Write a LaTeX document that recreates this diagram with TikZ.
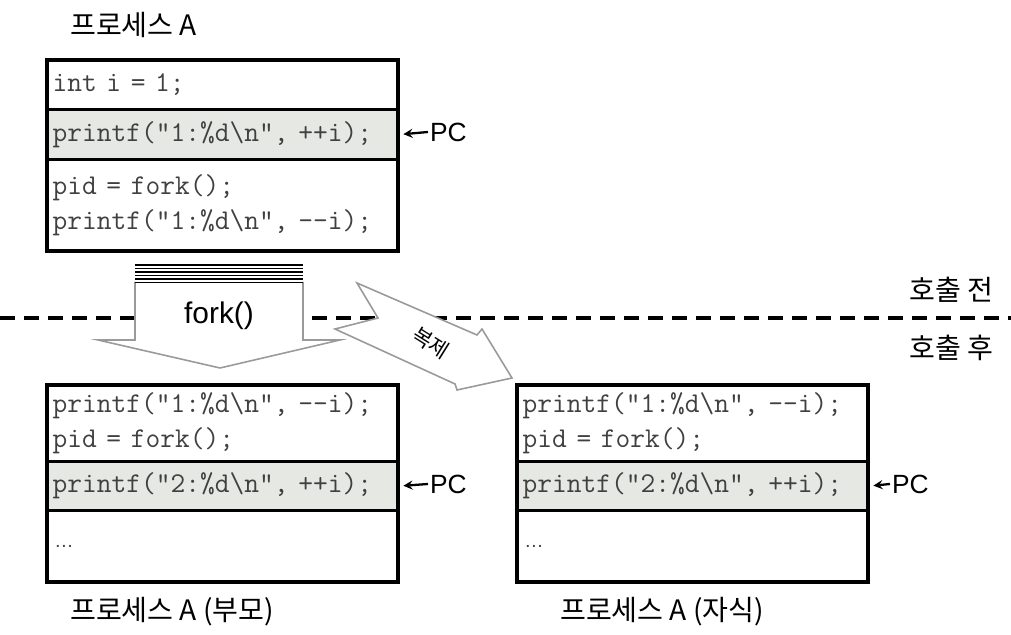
\documentclass[tikz,border=0pt]{standalone}
\usepackage{fontspec}
\setmainfont{Liberation Sans}
\newfontfamily\krfont{Noto Sans CJK KR}
\usepackage{tikz}
\usetikzlibrary{calc}
\definecolor{pcgray}{HTML}{E6E8E3}
\definecolor{outline}{HTML}{9A9A9A}
\tikzset{every node/.append style={font=\fontsize{14}{19}\selectfont}}
\tikzset{
  coderow/.style={draw=black, line width=0.8pt, anchor=north west, inner xsep=0.1cm,
    inner ysep=0pt, text width=6.8cm, align=left,
    font=\ttfamily\fontsize{16.3}{20}\selectfont, text=black!75},
  pcrow/.style={coderow, fill=pcgray},
  procbox/.style={line width=2.2pt},
  korean/.style={anchor=west, font=\krfont\fontsize{16}{19}\selectfont},
  pclabel/.style={anchor=west, inner xsep=1pt, font=\fontsize{15}{18}\selectfont},
  blockarrow/.style={draw=outline, fill=white, line width=0.9pt, line join=miter},
}
\newcommand{\tinydots}{{\rmfamily\fontsize{11}{11}\selectfont\kern1pt\textellipsis}}

\begin{document}
\begin{tikzpicture}[x=0.2mm, y=-0.2mm, >=stealth]
    \useasboundingbox (0,0) rectangle (1011,635);
    % before / after the call
    \draw[line width=2.2pt, dash pattern=on 0.3cm off 0.18cm] (0,318) -- (1011,318);
    \node[korean] (before) at (903,290) {호출 전};
    \node[korean] (after) at (903,348) {호출 후};

    % process A before fork
    \node[korean] (titleA) at (64,25) {프로세스 A};
    \node[coderow, minimum height=0.96cm] (a1) at (47,60) {int i = 1;};
    \node[pcrow, minimum height=0.98cm] (a2) at (a1.south west) {printf(“1:\%d\textbackslash n”, ++i);};
    \node[coderow, minimum height=1.8cm] (a3) at (a2.south west) {pid = fork();\\printf(“1:\%d\textbackslash n”, -{}-i);};
    \draw[procbox] (a1.north west) rectangle (a3.south east);
    \node[pclabel] (pcA) at (428,132) {PC};
    \draw[->, line width=1.3pt, shorten >=0.1cm] (pcA.west) -- (a2.east);

    % fork() arrow
    \draw[blockarrow] (135,282) -- (135,340) -- (98,340) -- (220,368)
        -- (340,340) -- (303,340) -- (303,282);
    \foreach \y in {265,268.5,...,283}
        \draw[line width=0.9pt] (135,\y) -- (303,\y);
    \node[font=\fontsize{17}{20}\selectfont] (fork) at (219,316) {fork()};

    % copy arrow
    \draw[blockarrow] (357,283) -- (477,335) -- (482,329) -- (512,378)
        -- (457,390) -- (455,384) -- (335,329) -- (378,318) -- cycle;
    \node[font=\krfont\fontsize{12}{14}\selectfont, rotate=-32, inner sep=0pt] (dup) at (431,343) {복제};

    % parent
    \node[coderow, minimum height=1.5cm] (p1) at (47,385) {printf(“1:\%d\textbackslash n”, -{}-i);\\pid = fork();};
    \node[pcrow, minimum height=0.96cm] (p2) at (p1.south west) {printf(“2:\%d\textbackslash n”, ++i);};
    \node[coderow, minimum height=1.4cm] (p3) at (p2.south west) {\tinydots};
    \draw[procbox] (p1.north west) rectangle (p3.south east);
    \node[pclabel] (pcP) at (428,484) {PC};
    \draw[->, line width=1.3pt, shorten >=0.1cm] (pcP.west) -- (p2.east);
    \node[korean] (titleP) at (64,612) {프로세스 A (부모)};

    % child
    \node[coderow, minimum height=1.5cm] (c1) at (517,385) {printf(“1:\%d\textbackslash n”, -{}-i);\\pid = fork();};
    \node[pcrow, minimum height=0.96cm] (c2) at (c1.south west) {printf(“2:\%d\textbackslash n”, ++i);};
    \node[coderow, minimum height=1.4cm] (c3) at (c2.south west) {\tinydots};
    \draw[procbox] (c1.north west) rectangle (c3.south east);
    \node[pclabel] (pcC) at (890,484) {PC};
    \draw[->, line width=1.3pt, shorten >=0.1cm] (pcC.west) -- (c2.east);
    \node[korean] (titleC) at (554,612) {프로세스 A (자식)};
\end{tikzpicture}
\end{document}
